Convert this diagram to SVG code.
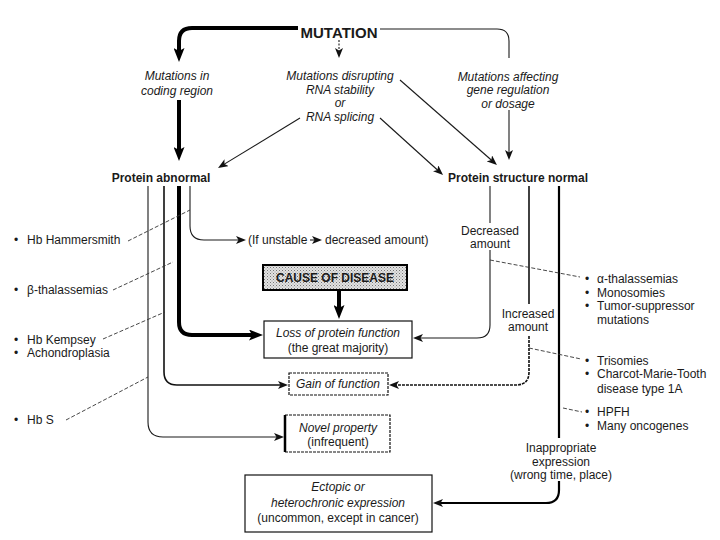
<svg xmlns="http://www.w3.org/2000/svg" width="720" height="540" viewBox="0 0 720 540">
<defs>
<style>
text{font-family:"Liberation Sans",Arial,sans-serif;font-size:12px;fill:#1a1a1a}
.b{font-weight:bold}
.i{font-style:italic}
.m{text-anchor:middle}
.t1{fill:none;stroke:#1a1a1a;stroke-width:1.1}
.t2{fill:none;stroke:#111;stroke-width:1.6}
.t3{fill:none;stroke:#000;stroke-width:2.2}
.tk{fill:none;stroke:#000;stroke-width:4}
.ld{fill:none;stroke:#333;stroke-width:0.9;stroke-dasharray:4 2}
.box{fill:#fff;stroke:#111;stroke-width:1.2}
</style>
<marker id="ah" markerUnits="userSpaceOnUse" markerWidth="10" markerHeight="8" refX="7" refY="4" orient="auto"><path d="M0,0 L10,4 L0,8 L2.5,4z" fill="#111"/></marker>
<marker id="ahb" markerUnits="userSpaceOnUse" markerWidth="14" markerHeight="11" refX="9" refY="5.5" orient="auto"><path d="M0,0 L14,5.5 L0,11 L3,5.5z" fill="#000"/></marker>
<pattern id="stip" width="3" height="3" patternUnits="userSpaceOnUse"><rect width="3" height="3" fill="#e2e2e2"/><rect width="1" height="1" fill="#777"/><rect x="1.5" y="1.5" width="1" height="1" fill="#9a9a9a"/></pattern>
</defs>
<rect width="720" height="540" fill="#fff"/>

<g id="connectors">
<path class="tk" d="M298,28 H192 Q179,28 179,41 V57" marker-end="url(#ahb)"/>
<path class="t1" d="M380,29 H497 Q509,29 509,41 V58"/>
<path class="t1" d="M339,40 V55" stroke-dasharray="2 1.5" marker-end="url(#ah)"/>
<path class="tk" d="M179,100 V156" marker-end="url(#ahb)"/>
<path class="t1" d="M300,118 L220.6,166.4" marker-end="url(#ah)"/>
<path class="t1" d="M380,118 L440.8,173" marker-end="url(#ah)"/>
<path class="t1" d="M400,80 L494.7,163" marker-end="url(#ah)"/>
<path class="t1" d="M509,110 V157" marker-end="url(#ah)"/>
<path class="t1" d="M148,186 V422 Q148,437 163,437 H281" stroke="#444" marker-end="url(#ah)"/>
<path class="t2" d="M164,186 V372 Q164,385 177,385 H285" marker-end="url(#ah)"/>
<path class="tk" d="M179,186 V322 Q179,335 192,335 H258" marker-end="url(#ahb)"/>
<path class="t1" d="M190,186 V226 Q190,240 204,240 H243" marker-end="url(#ah)"/>
<path class="t1" d="M310,240 H319" marker-end="url(#ah)"/>
<path class="tk" d="M339,290 V314" marker-end="url(#ahb)"/>
<path class="t1" d="M490,186 V223"/>
<path class="t1" d="M490,250 V325 Q490,338 477,338 H416" marker-end="url(#ah)"/>
<path class="t2" d="M529,186 V304"/>
<path class="t2" d="M529,336 V372 Q529,385 516,385 H392" stroke-dasharray="3 1" marker-end="url(#ah)"/>
<path class="t3" d="M559,186 V438"/>
<path class="t3" d="M559,481 V490 Q559,503 546,503 H436" marker-end="url(#ah)"/>
<path class="ld" d="M128,241 L190,210"/>
<path class="ld" d="M113,290 L173,262"/>
<path class="ld" d="M103,339 L165,312"/>
<path class="ld" d="M66,420 L148,377"/>
<path class="ld" d="M490,260 L580,277"/>
<path class="ld" d="M529,348 L581,359"/>
<path class="ld" d="M563,408 L582,412"/>
</g>

<g id="mutation"><text class="b m" x="339" y="38" style="font-size:15px">MUTATION</text></g>
<g id="coding"><text class="i m" x="177" y="80">Mutations in</text><text class="i m" x="177" y="95">coding region</text></g>
<g id="rna"><text class="i m" x="340" y="80">Mutations disrupting</text><text class="i m" x="340" y="94">RNA stability</text><text class="i m" x="340" y="107">or</text><text class="i m" x="340" y="121">RNA splicing</text></g>
<g id="regulation"><text class="i m" x="508" y="81">Mutations affecting</text><text class="i m" x="508" y="94">gene regulation</text><text class="i m" x="508" y="108">or dosage</text></g>
<g id="protein-abnormal"><text class="b m" x="161" y="182">Protein abnormal</text></g>
<g id="protein-normal"><text class="b m" x="518" y="182">Protein structure normal</text></g>
<g id="unstable"><text x="248" y="244">(If unstable</text><text x="325" y="244">decreased amount)</text></g>
<g id="cause"><rect x="263" y="265" width="144" height="25" fill="url(#stip)" stroke="#000" stroke-width="2"/><text class="b m" x="335" y="282">CAUSE OF DISEASE</text></g>
<g id="loss"><rect class="box" x="264" y="321" width="148" height="37"/><text class="i m" x="338" y="337">Loss of protein function</text><text class="m" x="338" y="352">(the great majority)</text></g>
<g id="gain"><rect class="box" x="289" y="373" width="99" height="22" stroke-dasharray="3 1"/><text class="i m" x="338" y="388">Gain of function</text></g>
<g id="novel"><rect class="box" x="285" y="415" width="105" height="37" stroke-dasharray="3 1"/><path d="M285,415 V452" stroke="#000" stroke-width="2.5"/><text class="i m" x="338" y="432">Novel property</text><text class="m" x="338" y="446">(infrequent)</text></g>
<g id="ectopic"><rect class="box" x="245" y="475" width="187" height="57"/><text class="i m" x="338" y="491">Ectopic or</text><text class="i m" x="338" y="507">heterochronic expression</text><text class="m" x="338" y="522">(uncommon, except in cancer)</text></g>
<g id="decreased"><text class="m" x="490" y="235">Decreased</text><text class="m" x="490" y="248">amount</text></g>
<g id="increased"><text class="m" x="528" y="318">Increased</text><text class="m" x="528" y="331">amount</text></g>
<g id="inappropriate"><text class="m" x="561" y="452">Inappropriate</text><text class="m" x="561" y="466">expression</text><text class="m" x="561" y="479">(wrong time, place)</text></g>
<g id="left-examples">
<text x="14" y="244">•</text><text x="27" y="244">Hb Hammersmith</text>
<text x="14" y="294">•</text><text x="27" y="294">β-thalassemias</text>
<text x="14" y="344">•</text><text x="27" y="344">Hb Kempsey</text>
<text x="14" y="357">•</text><text x="27" y="357">Achondroplasia</text>
<text x="14" y="424">•</text><text x="27" y="424">Hb S</text>
</g>
<g id="right-examples">
<text x="585" y="283">•</text><text x="597" y="283">α-thalassemias</text>
<text x="585" y="297">•</text><text x="597" y="297">Monosomies</text>
<text x="585" y="310">•</text><text x="597" y="310">Tumor-suppressor</text>
<text x="597" y="324">mutations</text>
<text x="585" y="365">•</text><text x="597" y="365">Trisomies</text>
<text x="585" y="378">•</text><text x="597" y="378">Charcot-Marie-Tooth</text>
<text x="597" y="393">disease type 1A</text>
<text x="585" y="416">•</text><text x="597" y="416">HPFH</text>
<text x="585" y="430">•</text><text x="597" y="430">Many oncogenes</text>
</g>
</svg>
